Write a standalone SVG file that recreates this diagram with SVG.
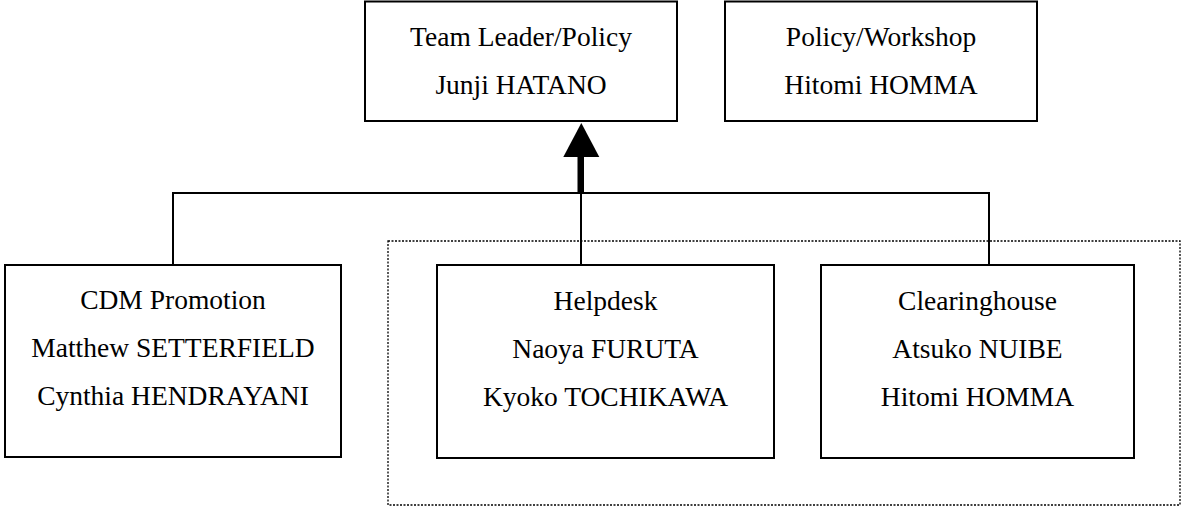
<svg xmlns="http://www.w3.org/2000/svg" width="1181" height="508" viewBox="0 0 1181 508">
<style>
.box{fill:#fff;stroke:#000;stroke-width:2}
.t{font-family:"Liberation Serif","Times New Roman",serif;font-size:27.5px;fill:#000;text-anchor:middle}
.ln{fill:none;stroke:#000;stroke-width:2}
</style>
<rect width="1181" height="508" fill="#fff"/>
<g id="group-dotted">
<rect x="388" y="241" width="792" height="264" fill="none" stroke="#000" stroke-width="1.3" stroke-dasharray="2,1.5"/>
</g>
<g id="connectors">
<polyline class="ln" points="173,265 173,193 989,193 989,265"/>
<line class="ln" x1="581" y1="193" x2="581" y2="265"/>
<rect x="577.5" y="155" width="6.5" height="38" fill="#000"/>
<polygon points="581.3,123 563.3,157 599.3,157" fill="#000"/>
</g>
<g id="team-leader">
<rect class="box" x="365" y="1.5" width="312" height="119.5"/>
<text class="t" x="521" y="45.5">Team Leader/Policy</text>
<text class="t" x="521" y="94">Junji HATANO</text>
</g>
<g id="policy-workshop">
<rect class="box" x="725" y="1.5" width="312" height="119.5"/>
<text class="t" x="881" y="45.5">Policy/Workshop</text>
<text class="t" x="881" y="94">Hitomi HOMMA</text>
</g>
<g id="cdm-promotion">
<rect class="box" x="5" y="265" width="336" height="192"/>
<text class="t" x="173" y="309">CDM Promotion</text>
<text class="t" x="173" y="357">Matthew SETTERFIELD</text>
<text class="t" x="173" y="405">Cynthia HENDRAYANI</text>
</g>
<g id="helpdesk">
<rect class="box" x="437" y="265" width="337" height="193"/>
<text class="t" x="605.5" y="310">Helpdesk</text>
<text class="t" x="605.5" y="358">Naoya FURUTA</text>
<text class="t" x="605.5" y="406">Kyoko TOCHIKAWA</text>
</g>
<g id="clearinghouse">
<rect class="box" x="821" y="265" width="313" height="193"/>
<text class="t" x="977.5" y="310">Clearinghouse</text>
<text class="t" x="977.5" y="358">Atsuko NUIBE</text>
<text class="t" x="977.5" y="406">Hitomi HOMMA</text>
</g>
</svg>
